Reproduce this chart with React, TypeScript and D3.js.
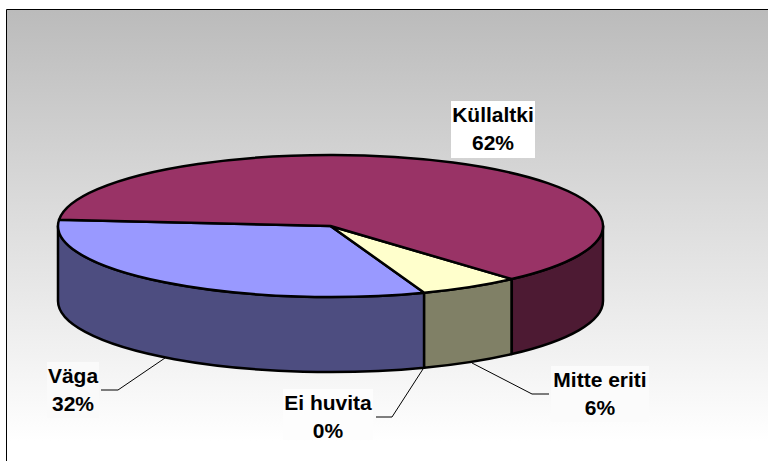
import React from "react";
import * as d3 from "d3";

// chart values
const categories = ["Väga", "Ei huvita", "Mitte eriti", "Küllaltki"];
const shares = [32, 0, 6, 62];
const topColors = ["#9999ff", "#ccffcc", "#ffffcc", "#993366"];
const sideColors = ["#4d4d80", "#668066", "#808066", "#4d1a33"];

const width = 768;
const height = 461;
const cx = 330.5;
const cy = 226;
const rx = 272.5;
const ry = 71;
const depth = 75;
const startDeg = 275.1; // where the first slice begins, 0 = up, clockwise

// label boxes and their leader lines
const labelBoxes = [
  { x: 47, y: 362, w: 52, h: 56, fill: "#fafafa" },
  { x: 283, y: 389, w: 90, h: 51, fill: "#fdfdfd" },
  { x: 551, y: 366, w: 98, h: 56, fill: "#fbfbfb" },
  { x: 451, y: 101, w: 84, h: 57, fill: "#ffffff" },
];
const leaders: ([number, number][] | null)[] = [
  [[101, 390], [118, 390], [165, 358]],
  [[376, 417], [392, 417], [423, 369]],
  [[549, 394], [532, 394], [472, 363]],
  null,
];

const pie = d3
  .pie<number>()
  .sort(null)
  .startAngle((startDeg * Math.PI) / 180)
  .endAngle(((startDeg - 360) * Math.PI) / 180);

const arcs = pie(shares);
const unitArc = d3.arc<d3.PieArcDatum<number>>().innerRadius(0).outerRadius(1);

// point on the ellipse, d3 angle convention
const px = (a: number) => cx + rx * Math.sin(a);
const py = (a: number) => cy - ry * Math.cos(a);

function wallPath(d: d3.PieArcDatum<number>) {
  // front half of the ellipse only: angle between PI/2 and 3PI/2
  const lo = Math.PI / 2;
  const hi = (3 * Math.PI) / 2;
  const a0 = Math.min(d.startAngle, hi);
  const a1 = Math.max(d.endAngle, lo);
  if (a0 <= a1) return null;
  return (
    `M${px(a0)},${py(a0)}` +
    `A${rx},${ry} 0 0 0 ${px(a1)},${py(a1)}` +
    `L${px(a1)},${py(a1) + depth}` +
    `A${rx},${ry} 0 0 1 ${px(a0)},${py(a0) + depth}Z`
  );
}

const line = d3.line();

export default function App() {
  return (
    <svg
      width={width}
      height={height}
      style={{ position: "absolute", left: 0, top: 0, fontFamily: "'Liberation Sans', Arial, sans-serif" }}
    >
      <defs>
        <linearGradient id="bg" x1="0" y1="0" x2="0" y2="1">
          <stop offset="0" stopColor="#bbbbbb" />
          <stop offset="0.5" stopColor="#dedede" />
          <stop offset="1" stopColor="#ffffff" />
        </linearGradient>
      </defs>
      <rect width={width} height={height} fill="#fff" />
      <rect x={7} y={10} width={width - 7} height={height - 10 - 20} fill="url(#bg)" />
      <path d={`M6.5,${height}V9.5H${width}`} fill="none" stroke="#000" strokeWidth={1} />

      {/* side walls */}
      {arcs.map((d, i) => {
        const p = wallPath(d);
        return p ? (
          <path key={i} d={p} fill={sideColors[i]} stroke="#000" strokeWidth={2.5} strokeLinejoin="round" />
        ) : null;
      })}

      {/* top face */}
      <g transform={`translate(${cx},${cy}) scale(${rx},${ry})`}>
        {arcs.map((d, i) =>
          d.value > 0 ? (
            <path
              key={i}
              d={unitArc(d) as string}
              fill={topColors[i]}
              stroke="#000"
              strokeWidth={2.5}
              strokeLinejoin="round"
              vectorEffect="non-scaling-stroke"
            />
          ) : null
        )}
      </g>

      {/* leaders */}
      {leaders.map((pts, i) =>
        pts ? <path key={i} d={line(pts) as string} fill="none" stroke="#000" strokeWidth={1} /> : null
      )}

      {/* labels */}
      {categories.map((c, i) => {
        const b = labelBoxes[i];
        return (
          <g key={c}>
            <rect x={b.x} y={b.y} width={b.w} height={b.h} fill={b.fill} />
            <text
              x={b.x + b.w / 2}
              textAnchor="middle"
              fontWeight="bold"
              fontSize={21}
              fill="#000"
            >
              <tspan x={b.x + b.w / 2} y={b.y + 21}>{c}</tspan>
              <tspan x={b.x + b.w / 2} y={b.y + 49}>{shares[i]}%</tspan>
            </text>
          </g>
        );
      })}
    </svg>
  );
}
